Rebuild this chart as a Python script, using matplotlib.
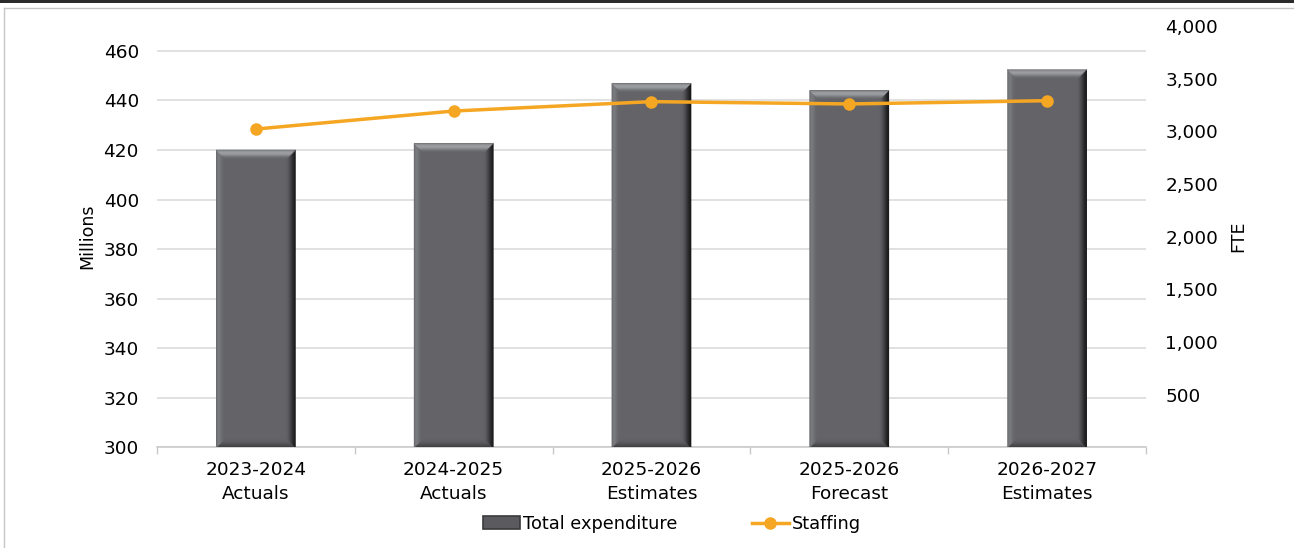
import numpy as np
import matplotlib.pyplot as plt
from matplotlib.patches import Polygon, Patch
from matplotlib.lines import Line2D

plt.rcParams['font.family'] = ['DejaVu Sans']

# Chart data
periods = ['2023-2024\nActuals', '2024-2025\nActuals', '2025-2026\nEstimates',
           '2025-2026\nForecast', '2026-2027\nEstimates']
expenditure = [420.0, 422.7, 446.9, 444.0, 452.4]   # millions
staffing = [3022, 3193, 3282, 3260, 3291]           # FTE

left_ticks = [300, 320, 340, 360, 380, 400, 420, 440, 460]
right_ticks = [500, 1000, 1500, 2000, 2500, 3000, 3500, 4000]

face = '#646468'
orange = '#f5a623'
grid_col = '#d9d9d9'
fs = 13.3

fig = plt.figure(figsize=(12.94, 5.48), dpi=100)
ax = fig.add_axes([0.1213, 0.1834, 0.7643, 0.7692])
ax2 = ax.twinx()

x = np.arange(len(periods))
bar_w = 0.4
ax.set_xlim(-0.5, len(periods) - 0.5)
ax.set_ylim(300, 470)
ax2.set_ylim(0, 4000)

ax.bar(x, np.array(expenditure) - 300, bottom=300, width=bar_w,
       color=face, zorder=2)

# bevel edges drawn as stripes, sized in pixels
fig.canvas.draw()
bb = ax.get_window_extent()
px_x = (ax.get_xlim()[1] - ax.get_xlim()[0]) / bb.width
px_y = (ax.get_ylim()[1] - ax.get_ylim()[0]) / bb.height
top_cols = ['#7c7d81', '#909195', '#9c9da1', '#a0a1a5', '#989a9e', '#8b8c90',
            '#7c7d81', '#707175', '#69696d', '#646468']
right_cols = ['#161617', '#1e1e1f', '#262628', '#303032', '#3b3b3e', '#46464a',
              '#505054', '#59595d', '#5f5f63', '#636367']
left_cols = ['#6c6d71', '#76777b', '#7b7c80', '#78797d', '#727377', '#6d6e72',
             '#69696d', '#666669', '#656569', '#646468']
bot_cols = ['#38383b', '#404043', '#48484b', '#505054', '#56565a', '#5b5b5f',
            '#5f5f63', '#616165', '#636367', '#646468']
bev = len(top_cols)

for xi, v in zip(x, expenditure):
    L, R, T, B = xi - bar_w / 2, xi + bar_w / 2, v, 300
    for k in range(bev):
        ax_, bx_ = k * px_x, (k + 1) * px_x
        ay_, by_ = k * px_y, (k + 1) * px_y
        sides = [
            ([(L + ax_, B + ay_), (R - ax_, B + ay_), (R - bx_, B + by_), (L + bx_, B + by_)], bot_cols[k]),
            ([(L + ax_, T - ay_), (L + bx_, T - by_), (L + bx_, B + by_), (L + ax_, B + ay_)], left_cols[k]),
            ([(R - ax_, T - ay_), (R - ax_, B + ay_), (R - bx_, B + by_), (R - bx_, T - by_)], right_cols[k]),
            ([(L + ax_, T - ay_), (R - ax_, T - ay_), (R - bx_, T - by_), (L + bx_, T - by_)], top_cols[k]),
        ]
        for pts, c in sides:
            ax.add_patch(Polygon(pts, closed=True, facecolor=c, edgecolor=c,
                                 linewidth=0.4, zorder=3))

ax2.plot(x, staffing, color=orange, linewidth=2.5, marker='o', markersize=8,
         zorder=5)

# left axis
ax.set_yticks(left_ticks)
ax.set_yticklabels([str(t) for t in left_ticks])
ax.yaxis.grid(True, color=grid_col, linewidth=1.1, zorder=0)
ax.set_axisbelow(True)
ax.tick_params(axis='y', length=0, pad=13, labelsize=fs, colors='black')
ax.set_ylabel('Millions', fontsize=12.5)
ax.yaxis.set_label_coords(-0.0617, 0.5)

# right axis
ax2.set_yticks(right_ticks)
ax2.set_yticklabels([f'{t:,}' for t in right_ticks])
ax2.tick_params(axis='y', length=0, pad=14, labelsize=fs)
ax2.set_ylabel('FTE', fontsize=12.5)
ax2.yaxis.set_label_coords(1.084, 0.5)

# category axis
ax.set_xticks(x)
ax.set_xticklabels(periods, fontsize=fs, linespacing=1.4)
ax.set_xticks(np.arange(-0.5, len(periods)), minor=True)
ax.tick_params(axis='x', which='major', length=0, pad=10)
ax.tick_params(axis='x', which='minor', length=5, color='#c8c8c8', width=1)

for a in (ax, ax2):
    for s in ('top', 'left', 'right', 'bottom'):
        a.spines[s].set_visible(False)
ax.spines['bottom'].set_visible(True)
ax.spines['bottom'].set_color('#c8c8c8')
ax.spines['bottom'].set_linewidth(1.1)

handles = [Patch(facecolor='#5b5b5f', edgecolor='#3a3a3c', linewidth=1.2),
           Line2D([], [], color=orange, linewidth=2.5, marker='o', markersize=8)]
fig.legend(handles, ['Total expenditure', 'Staffing'], loc='center',
           bbox_to_anchor=(0.519, 0.044), ncol=2, frameon=False, fontsize=12.8,
           handlelength=2.1, handleheight=0.7, handletextpad=0.15,
           columnspacing=4.2)

# page frame
fig.add_artist(plt.Rectangle((0, 1 - 3 / 548), 1, 3 / 548, transform=fig.transFigure,
                             facecolor='#2b2b2b', edgecolor='none'))
fig.add_artist(Line2D([3.5 / 1294, 1], [1 - 7.5 / 548, 1 - 7.5 / 548],
                      transform=fig.transFigure, color='#c6c6c6', linewidth=1))
fig.add_artist(Line2D([3.5 / 1294, 3.5 / 1294], [0, 1 - 7.5 / 548],
                      transform=fig.transFigure, color='#c6c6c6', linewidth=1))

fig.savefig('out.png', dpi=100)
